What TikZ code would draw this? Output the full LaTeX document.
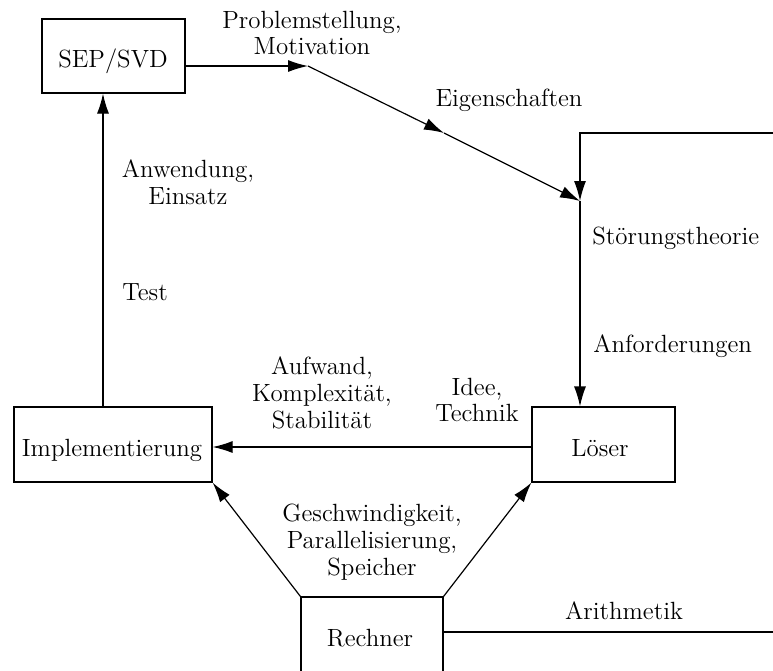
\documentclass[tikz,border=0pt]{standalone}
\usetikzlibrary{arrows.meta}
\begin{document}
\begin{tikzpicture}[x=0.5pt,y=-0.5pt,
  every node/.style={font=\fontsize{12.45}{13.4}\selectfont},
  box/.style={draw,rectangle,inner sep=0pt,line width=0.6pt},
  txt/.style={inner sep=0pt,align=center},
  arr/.style={line width=0.6pt,-{Latex[length=10pt,width=6pt]}},
  ln/.style={line width=0.6pt}]
\useasboundingbox (0,0) rectangle (773,671);

% boxes
\node[box,minimum width=71.5pt,minimum height=37pt] (sep) at (113.5,56) {};
\node[box,minimum width=71.5pt,minimum height=37.5pt] (loeser) at (603.5,444.5) {};
\node[box,minimum width=99pt,minimum height=37.5pt] (impl) at (113,444.5) {};
\node[box,minimum width=71pt,minimum height=38pt] (rech) at (372,635) {};

% box captions
\node[txt] (sept) at (113,61) {SEP/SVD};
\node[txt] (loesert) at (600,448) {Löser};
\node[txt] (implt) at (112,450) {Implementierung};
\node[txt] (recht) at (370,638) {Rechner};

% bend points
\coordinate (p1) at (308,66);
\coordinate (m1) at (444,133);
\coordinate (p2) at (580,201);
\coordinate (c1) at (773,133);
\coordinate (c2) at (580,133);
\coordinate (c3) at (773,632);

% connectors
\draw[arr] ([yshift=-5pt]sep.east) -- (p1);
\draw[arr] (p1) -- (m1);
\draw[arr] (m1) -- (p2);
\draw[arr] (c1) -- (c2) -- (p2);
\draw[arr] (p2) -- (p2 |- loeser.north);
\draw[arr] ([yshift=-1.25pt]loeser.west) -- ([yshift=-1.25pt]impl.east);
\draw[arr] ([xshift=-5pt]impl.north) -- ([xshift=-5pt]impl.north |- sep.south);
\draw[arr] (rech.north west) -- (impl.south east);
\draw[arr] (rech.north east) -- (loeser.south west);
\draw[ln] ([yshift=1.5pt]rech.east) -- (c3);

% connector labels
\node[txt] (l1) at (312,33) {Problemstellung,\\Motivation};
\node[txt] (l2) at (509,100) {Eigenschaften};
\node[txt,anchor=west] (l3) at (592,238) {Störungstheorie};
\node[txt,anchor=west] (l4) at (593,346) {Anforderungen};
\node[txt] (l5) at (188,182) {Anwendung,\\Einsatz};
\node[txt] (l6) at (145,292) {Test};
\node[txt] (l7) at (322,393) {Aufwand,\\Komplexität,\\Stabilität};
\node[txt] (l8) at (477,400) {Idee,\\Technik};
\node[txt] (l9) at (372,542) {Geschwindigkeit,\\Parallelisierung,\\Speicher};
\node[txt] (l10) at (624,611) {Arithmetik};
\end{tikzpicture}
\end{document}
